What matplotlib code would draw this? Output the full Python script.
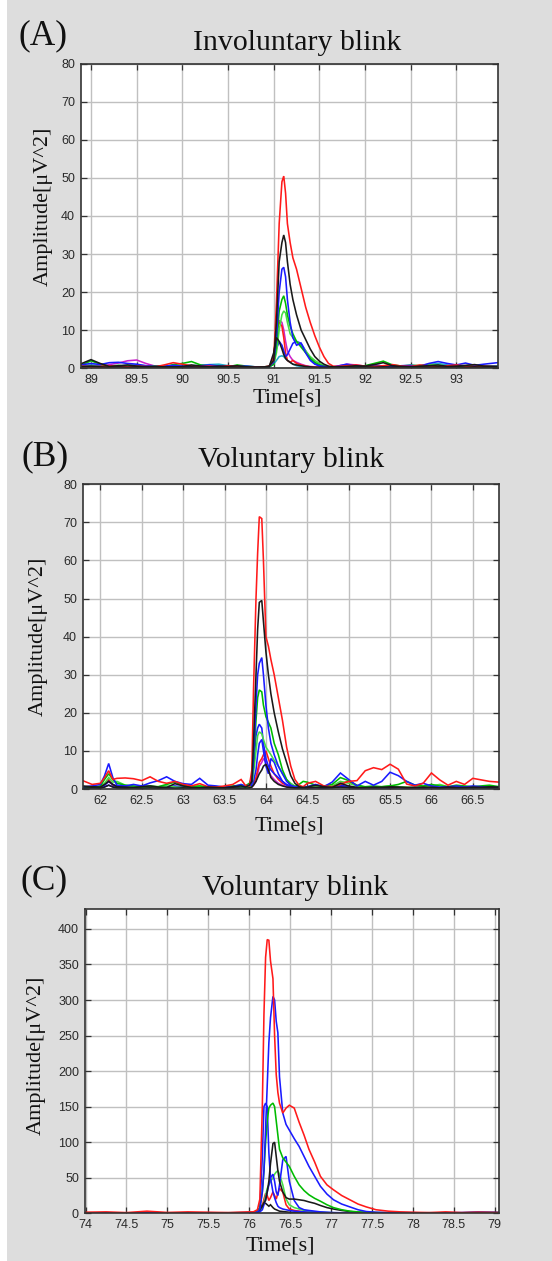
import numpy as np
import matplotlib
matplotlib.use("Agg")
import matplotlib.pyplot as plt
from matplotlib.patches import Rectangle

W, H, DPI = 552, 1261, 100

# ---------------- Panel A : involuntary blink ----------------
tA_pre = [88.88, 89.0, 89.1, 89.2, 89.3, 89.4, 89.5, 89.6, 89.7, 89.8,
          89.9, 90.0, 90.1, 90.2, 90.3, 90.4, 90.5, 90.6, 90.7, 90.8, 90.9]
tA_peak = [90.95, 91.0, 91.03, 91.06, 91.09, 91.11, 91.13, 91.15, 91.18, 91.21,
           91.25, 91.3, 91.35, 91.4, 91.45, 91.5, 91.55, 91.6, 91.65]
tA_post = [91.7, 91.8, 91.9, 92.0, 92.1, 92.2, 92.3, 92.4, 92.5, 92.6,
           92.7, 92.8, 92.9, 93.0, 93.1, 93.2, 93.3, 93.45]

A_cyan = [[0.6, 0.8, 0.6, 0.4, 0.5, 0.7, 0.8, 0.6, 0.4, 0.5, 0.3, 0.4, 0.6, 0.7, 0.9, 1.0, 0.6, 0.4, 0.3, 0.2, 0.2],
          [0.3, 1, 2, 3, 3.2, 3, 2.5, 2, 1.5, 1, 0.6, 0.4, 0.3, 0.2, 0.2, 0.2, 0.3, 0.3, 0.3],
          [0.4, 0.6, 0.5, 0.4, 0.3, 0.4, 0.6, 0.5, 0.4, 0.6, 0.9, 1.2, 0.8, 0.5, 0.4, 0.3, 0.5, 0.4]]
A_magenta = [[0.4, 0.6, 0.5, 0.9, 1.3, 1.9, 2.1, 1.2, 0.5, 0.3, 0.4, 0.3, 0.2, 0.3, 0.4, 0.3, 0.2, 0.3, 0.2, 0.2, 0.2],
             [0.3, 2.5, 9, 12.5, 12, 10, 7, 4.5, 3, 2, 1.5, 1, 0.6, 0.4, 0.3, 0.2, 0.2, 0.2, 0.3],
             [0.5, 1.0, 0.8, 0.5, 0.4, 0.3, 0.4, 0.3, 0.5, 0.4, 0.3, 0.4, 0.3, 0.2, 0.3, 0.4, 0.3, 0.2]]
A_red2 = [[0.2, 0.3, 0.2, 0.4, 0.3, 0.2, 0.3, 0.2, 0.4, 0.3, 0.2, 0.3, 0.4, 0.3, 0.2, 0.3, 0.2, 0.3, 0.2, 0.3, 0.2],
          [0.3, 3, 10, 12, 11, 8, 4, 2, 1.5, 2, 1.2, 0.8, 0.5, 0.3, 0.2, 0.2, 0.2, 0.2, 0.2],
          [0.2, 0.3, 0.2, 0.3, 0.2, 0.3, 0.4, 0.3, 0.2, 0.3, 0.2, 0.3, 0.2, 0.3, 0.4, 0.3, 0.2, 0.3]]
A_blue2 = [[0.5, 0.4, 0.6, 0.5, 0.3, 0.4, 0.6, 0.5, 0.3, 0.2, 0.3, 0.4, 0.3, 0.5, 0.4, 0.3, 0.4, 0.3, 0.2, 0.3, 0.2],
           [0.2, 1.5, 5, 7, 6, 4.5, 3, 3.5, 5, 6.5, 7, 6.5, 4.5, 2.5, 1.2, 0.5, 0.3, 0.2, 0.2],
           [0.3, 0.4, 0.3, 0.5, 0.4, 0.3, 0.5, 0.4, 0.3, 0.5, 0.4, 0.5, 0.6, 0.4, 0.3, 0.4, 0.3, 0.5]]
A_green2 = [[0.3, 0.5, 0.4, 0.6, 0.3, 0.5, 0.4, 0.3, 0.5, 0.6, 0.4, 0.3, 0.5, 0.4, 0.3, 0.5, 0.6, 0.4, 0.3, 0.2, 0.3],
            [0.4, 1.0, 4, 10, 14, 15, 14.5, 12, 9, 8, 7, 6, 4.5, 3, 2, 1.2, 0.6, 0.3, 0.2],
            [0.3, 0.4, 0.5, 0.3, 0.6, 0.4, 0.3, 0.5, 0.8, 0.6, 1.0, 0.8, 0.5, 0.6, 0.4, 0.5, 0.3, 0.4]]
A_green = [[0.6, 1.9, 1.0, 0.5, 0.7, 0.4, 0.3, 0.5, 0.4, 0.3, 0.9, 1.2, 1.7, 0.8, 0.5, 0.4, 0.3, 0.8, 0.5, 0.3, 0.2],
           [0.3, 1.0, 6, 15, 18, 19, 17, 14, 11, 9, 7, 5.5, 4, 2.5, 1.5, 0.8, 0.5, 0.3, 0.2],
           [0.3, 0.5, 0.4, 0.6, 1.2, 1.8, 0.8, 0.5, 0.3, 0.4, 0.5, 0.6, 0.4, 0.5, 0.3, 0.6, 0.4, 0.3]]
A_blue = [[0.8, 1.2, 0.9, 1.4, 1.5, 1.2, 1.0, 0.6, 0.4, 0.5, 0.7, 0.5, 0.3, 0.6, 0.8, 0.5, 0.6, 0.4, 0.5, 0.3, 0.2],
          [0.4, 1.5, 8, 20, 26, 26.5, 24, 18, 12, 8, 6, 6.5, 4, 2, 1, 0.6, 0.4, 0.3, 0.2],
          [0.5, 1.0, 0.6, 0.4, 0.8, 0.5, 0.4, 0.6, 0.7, 0.5, 1.2, 1.7, 1.2, 0.8, 1.3, 0.7, 1.0, 1.4]]
A_red = [[0.5, 0.3, 0.4, 0.6, 0.4, 0.3, 0.5, 0.4, 0.3, 0.8, 1.4, 1.0, 0.6, 0.4, 0.5, 0.3, 0.6, 0.4, 0.3, 0.2, 0.3],
         [0.5, 2.0, 17, 38, 49, 50.5, 46, 38, 33, 29, 26, 21, 16, 12, 8.5, 5.5, 3.0, 1.2, 0.5],
         [0.4, 0.6, 0.8, 0.5, 0.4, 0.6, 0.9, 0.5, 0.4, 0.8, 0.5, 0.4, 0.6, 0.8, 0.5, 0.4, 0.5, 0.3]]
A_black2 = [[0.3, 0.5, 0.3, 0.2, 0.3, 0.2, 0.3, 0.2, 0.3, 0.2, 0.3, 0.2, 0.3, 0.2, 0.3, 0.2, 0.3, 0.2, 0.3, 0.2, 0.2],
            [0.3, 4, 8, 7, 5, 3.5, 2.5, 2, 1.5, 1, 0.8, 0.6, 0.4, 0.3, 0.2, 0.2, 0.2, 0.2, 0.2],
            [0.2, 0.3, 0.2, 0.3, 0.2, 0.3, 0.2, 0.3, 0.2, 0.3, 0.2, 0.3, 0.2, 0.3, 0.2, 0.3, 0.2, 0.2]]
A_black = [[1.0, 2.2, 1.2, 0.4, 0.6, 0.8, 0.5, 0.3, 0.4, 0.3, 0.2, 0.4, 0.8, 0.5, 0.3, 0.5, 0.4, 0.6, 0.3, 0.2, 0.3],
           [0.5, 2.0, 12, 28, 33, 35, 33, 28, 22, 18, 14, 10, 7.5, 5, 3, 1.8, 1.0, 0.5, 0.3],
           [0.3, 0.4, 0.6, 0.5, 0.9, 1.4, 0.6, 0.4, 0.3, 0.5, 0.6, 0.8, 0.4, 0.5, 0.7, 0.9, 0.5, 0.4]]

# ---------------- Panel B : voluntary blink ----------------
tB_pre = [61.786, 61.9, 62.0, 62.05, 62.1, 62.15, 62.2, 62.3, 62.4, 62.5, 62.6, 62.7,
          62.8, 62.9, 63.0, 63.1, 63.2, 63.3, 63.4, 63.5, 63.6, 63.7, 63.75]
tB_peak = [63.8, 63.83, 63.85, 63.88, 63.9, 63.92, 63.95, 63.97, 64.0, 64.03,
           64.06, 64.1, 64.15, 64.2, 64.25, 64.3, 64.35, 64.4, 64.45]
tB_post = [64.5, 64.6, 64.7, 64.8, 64.9, 65.0, 65.1, 65.2, 65.3, 65.4, 65.5, 65.6,
           65.7, 65.8, 65.9, 66.0, 66.1, 66.2, 66.3, 66.4, 66.5, 66.6, 66.7, 66.82]

B_magenta = [[0.3, 0.4, 0.5, 1.0, 2.0, 1.0, 0.5, 0.4, 0.3, 0.4, 0.5, 0.4, 0.3, 0.4, 0.3, 0.4, 0.3, 0.4, 0.3, 0.4, 0.3, 0.4, 0.3],
             [0.3, 0.5, 1, 2, 4, 6, 7, 8, 7, 5, 3.5, 2.5, 1.5, 1, 0.6, 0.4, 0.3, 0.3, 0.3],
             [0.3, 0.4, 0.3, 0.4, 0.6, 0.4, 0.3, 0.4, 0.3, 0.4, 0.3, 0.4, 0.3, 0.4, 0.3, 0.4, 0.3, 0.4, 0.3, 0.4, 0.3, 0.4, 0.3, 0.3]]
B_red2 = [[0.4, 0.5, 0.6, 1.2, 2.5, 1.0, 0.6, 0.5, 0.4, 0.5, 0.6, 0.5, 0.4, 0.5, 0.4, 0.3, 0.4, 0.3, 0.4, 0.3, 0.5, 0.6, 0.4],
          [0.5, 0.8, 1.5, 3, 5, 7, 8, 9, 10, 8, 6, 4, 2.5, 1.5, 1.0, 0.6, 0.4, 0.4, 0.3],
          [0.4, 0.5, 0.4, 0.5, 1.5, 2.0, 0.8, 0.5, 0.4, 0.5, 0.4, 0.5, 0.4, 0.3, 0.4, 0.5, 0.4, 0.3, 0.4, 0.3, 0.4, 0.3, 0.4, 0.3]]
B_blue3 = [[0.3, 0.4, 0.3, 0.6, 1.0, 0.6, 0.4, 0.3, 0.4, 0.3, 0.4, 0.3, 0.4, 0.3, 0.4, 0.3, 0.4, 0.3, 0.4, 0.3, 0.4, 0.3, 0.3],
           [0.4, 0.8, 2, 5, 9, 12, 13, 10, 6, 4, 8, 7, 4, 2, 1, 0.6, 0.4, 0.3, 0.3],
           [0.3, 0.4, 0.3, 0.4, 0.6, 0.4, 0.3, 0.4, 0.3, 0.4, 0.3, 0.4, 0.3, 0.4, 0.3, 0.4, 0.3, 0.4, 0.3, 0.4, 0.3, 0.4, 0.3, 0.3]]
B_blue2 = [[0.4, 0.6, 0.5, 1.0, 2.0, 1.2, 0.8, 0.6, 0.5, 0.8, 0.6, 0.5, 0.6, 0.8, 0.5, 0.4, 0.6, 0.5, 0.4, 0.3, 0.4, 0.5, 0.4],
           [0.5, 1, 6, 14, 16, 17, 16, 12, 8, 6, 5, 4, 3, 2, 1.2, 0.8, 0.5, 0.4, 0.3],
           [0.4, 0.5, 0.4, 0.6, 1.0, 0.6, 0.4, 0.5, 0.4, 0.3, 0.5, 0.4, 0.3, 0.4, 0.5, 0.4, 0.3, 0.4, 0.5, 0.4, 0.3, 0.4, 0.3, 0.4]]
B_green2 = [[0.3, 0.5, 0.6, 1.5, 3.0, 1.8, 2.0, 1.0, 0.6, 0.5, 0.4, 0.6, 0.8, 0.5, 0.4, 0.6, 0.8, 0.5, 0.4, 0.3, 0.5, 0.6, 0.4],
            [0.5, 1, 4, 10, 14, 15, 14.5, 13, 11, 10, 9, 7.5, 6, 4, 2.5, 1.5, 0.8, 0.5, 0.4],
            [0.6, 0.8, 0.5, 0.8, 2.0, 1.5, 0.8, 0.5, 0.4, 0.6, 0.8, 0.6, 0.5, 0.4, 0.6, 0.8, 1.2, 0.6, 0.4, 0.5, 0.3, 0.4, 0.5, 0.4]]
B_green = [[0.5, 0.4, 0.8, 2.5, 4.0, 2.5, 1.5, 1.0, 0.8, 0.6, 0.8, 0.6, 1.2, 1.8, 1.0, 0.6, 0.8, 0.5, 0.4, 0.6, 0.8, 1.0, 0.8],
           [1.5, 3, 6, 18, 24, 26, 25.5, 22, 19, 17.5, 16, 12, 9, 5, 2.5, 1, 0.6, 1.2, 2.0],
           [1.8, 1.0, 0.8, 1.2, 3.0, 2.2, 1.0, 0.6, 0.8, 0.6, 0.8, 1.2, 2.0, 1.0, 0.8, 1.2, 0.8, 0.6, 1.0, 0.8, 0.6, 0.8, 1.0, 0.6]]
B_blue = [[0.5, 0.8, 1.2, 3.5, 6.7, 3.0, 1.0, 0.8, 1.2, 0.8, 1.6, 2.2, 3.2, 2.0, 1.4, 1.2, 2.8, 1.0, 0.8, 0.5, 0.6, 1.2, 0.8],
          [1.0, 1, 8, 22, 30, 33, 34.5, 30, 22, 16, 12, 9, 6, 4, 2, 1, 0.6, 0.5, 0.4],
          [0.6, 1.2, 0.6, 1.8, 4.2, 2.5, 0.8, 2.0, 1.0, 2.0, 4.4, 3.5, 2.0, 1.0, 1.5, 0.8, 0.5, 0.6, 0.8, 0.5, 0.8, 0.6, 0.5, 0.4]]
B_red = [[2.2, 1.2, 1.5, 3.0, 4.8, 2.5, 2.8, 2.9, 2.7, 2.2, 3.2, 2.0, 1.5, 2.0, 1.2, 0.8, 1.4, 0.6, 0.5, 0.8, 1.2, 2.5, 1.0],
         [0.8, 5, 26, 50, 62, 71.5, 71, 60, 40, 37.5, 34, 30, 24, 18, 11, 6, 2.5, 1.0, 0.6],
         [1.5, 2.0, 0.8, 0.6, 1.2, 2.0, 2.2, 4.8, 5.6, 5.1, 6.5, 5.2, 1.3, 0.8, 1.5, 4.2, 2.4, 1.0, 2.0, 1.2, 2.8, 2.4, 2.0, 1.8]]
B_black2 = [[0.2, 0.3, 0.2, 0.5, 1.0, 0.5, 0.3, 0.2, 0.3, 0.2, 0.3, 0.2, 0.3, 0.2, 0.3, 0.2, 0.3, 0.2, 0.3, 0.2, 0.3, 0.2, 0.2],
            [0.3, 0.5, 1, 2, 3, 4, 5, 6, 6.5, 5, 3, 2, 1.2, 0.8, 0.5, 0.4, 0.3, 0.3, 0.3],
            [0.3, 0.4, 0.3, 0.4, 0.5, 0.4, 0.3, 0.4, 0.3, 0.4, 0.3, 0.4, 0.3, 0.4, 0.3, 0.4, 0.3, 0.4, 0.3, 0.4, 0.3, 0.4, 0.3, 0.3]]
B_black = [[0.8, 0.6, 0.5, 1.2, 2.0, 1.2, 0.6, 0.5, 0.4, 0.6, 0.8, 0.5, 0.4, 1.4, 0.8, 0.4, 0.3, 0.5, 0.4, 0.3, 0.6, 0.8, 0.5],
           [1.0, 2, 12, 30, 42, 49, 49.5, 44, 36, 30, 25, 20, 15, 10.5, 7, 3.5, 1.5, 0.6, 0.4],
           [0.5, 1.0, 0.6, 0.4, 1.5, 0.8, 0.4, 0.3, 0.5, 0.4, 0.6, 0.5, 0.4, 0.3, 0.5, 0.4, 0.3, 0.5, 0.4, 0.3, 0.5, 0.4, 0.6, 0.5]]

# ---------------- Panel C : voluntary blink ----------------
tC_pre = [73.987, 74.25, 74.5, 74.75, 75.0, 75.25, 75.5, 75.75, 76.0]
tC_peak = [76.05, 76.1, 76.13, 76.16, 76.18, 76.2, 76.22, 76.24, 76.26, 76.29,
           76.31, 76.33, 76.35, 76.37, 76.41, 76.45, 76.49, 76.55, 76.61, 76.67,
           76.73, 76.8, 76.87, 76.95, 77.03, 77.13, 77.23, 77.33, 77.43, 77.55,
           77.7, 77.85]
tC_post = [78.0, 78.2, 78.4, 78.6, 78.8, 79.056]

C_black2 = [[0.2, 0.3, 0.2, 0.3, 0.2, 0.3, 0.2, 0.3, 0.3],
            [0.5, 2, 8, 12, 15, 14, 12, 10, 12, 8, 6, 5, 4, 3, 2.5, 2, 1.5, 1.2, 1, 0.8,
             0.6, 0.5, 0.4, 0.4, 0.3, 0.3, 0.3, 0.3, 0.3, 0.3, 0.3, 0.3],
            [0.3, 0.3, 0.3, 0.3, 0.3, 0.3]]
C_red2 = [[0.3, 0.5, 0.3, 0.4, 0.3, 0.4, 0.3, 0.4, 0.5],
          [0.5, 1, 3, 10, 20, 28, 25, 18, 22, 30, 25, 20, 28, 35, 30, 12, 6, 4, 3, 2,
           1.5, 1, 0.8, 0.6, 0.5, 0.5, 0.4, 0.4, 0.4, 0.4, 0.4, 0.4],
          [0.4, 0.5, 0.4, 0.4, 0.5, 0.4]]
C_green2 = [[0.3, 0.4, 0.3, 0.4, 0.3, 0.4, 0.3, 0.4, 0.4],
            [0.5, 1, 3, 8, 15, 25, 35, 40, 45, 50, 55, 58, 60, 55, 40, 20, 12, 8, 6, 4,
             3, 2, 1.5, 1, 0.8, 0.6, 0.5, 0.4, 0.4, 0.4, 0.4, 0.4],
            [0.4, 0.4, 0.5, 0.4, 0.4, 0.4]]
C_blue3 = [[0.3, 0.4, 0.3, 0.4, 0.3, 0.4, 0.3, 0.4, 0.5],
           [0.5, 1, 2, 5, 12, 20, 30, 40, 50, 55, 45, 30, 25, 40, 75, 80, 45, 18, 8, 5,
            4, 3, 2, 1.5, 1, 0.8, 0.6, 0.5, 0.4, 0.4, 0.4, 0.4],
           [0.4, 0.4, 0.4, 0.5, 0.4, 0.4]]
C_blue2 = [[0.4, 0.5, 0.4, 0.6, 0.4, 0.5, 0.4, 0.5, 0.6],
           [1, 3, 5, 80, 150, 155, 150, 85, 50, 30, 22, 15, 10, 8, 6, 5, 4, 3, 2.5, 2,
            1.5, 1.2, 1, 0.8, 0.6, 0.5, 0.5, 0.4, 0.4, 0.4, 0.4, 0.4],
           [0.4, 0.5, 0.4, 0.5, 0.4, 0.4]]
C_black = [[0.8, 0.6, 0.5, 0.8, 0.6, 0.5, 0.6, 0.8, 1.0],
           [1, 2, 5, 10, 15, 18, 30, 45, 70, 98, 100, 80, 60, 45, 30, 22, 20, 20, 19, 18,
            16, 14, 11, 8, 6, 4, 2.5, 1.5, 1, 0.8, 0.6, 0.6],
           [0.6, 0.8, 0.6, 0.8, 1.5, 1.2]]
C_green = [[0.5, 0.6, 0.5, 0.8, 0.5, 0.6, 0.5, 0.6, 0.8],
           [1, 3, 8, 30, 60, 100, 130, 148, 152, 155, 150, 130, 110, 90, 78, 72, 66, 52, 40, 32,
            26, 21, 17, 12, 8, 5, 3, 2, 1.5, 1, 0.8, 0.6],
           [0.6, 0.5, 0.6, 0.5, 0.6, 0.5]]
C_blue = [[0.5, 0.8, 0.5, 1.0, 0.6, 0.5, 0.8, 0.6, 1.0],
          [1, 2, 6, 30, 60, 120, 180, 240, 275, 305, 300, 270, 254, 192, 141, 125, 117, 105, 94, 80,
           66, 52, 38, 27, 19, 13, 9, 5, 2.5, 1.5, 1, 1],
          [0.8, 0.5, 0.8, 1.0, 1.5, 1.0]]
C_red = [[1.5, 2.0, 1.0, 3.0, 1.2, 2.0, 1.5, 1.0, 2.0],
         [2, 5, 20, 150, 280, 360, 385, 384, 355, 330, 250, 195, 170, 155, 141, 148, 152, 148, 128, 110,
          90, 72, 52, 40, 33, 25, 19, 13, 9, 5, 3, 2],
         [1.5, 1.0, 2.0, 1.0, 1.5, 1.0]]

# tick values and labels
xticks_A = [89, 89.5, 90, 90.5, 91, 91.5, 92, 92.5, 93]
xlabels_A = ["89", "89.5", "90", "90.5", "91", "91.5", "92", "92.5", "93"]
xticks_B = [62, 62.5, 63, 63.5, 64, 64.5, 65, 65.5, 66, 66.5]
xlabels_B = ["62", "62.5", "63", "63.5", "64", "64.5", "65", "65.5", "66", "66.5"]
xticks_C = [74, 74.5, 75, 75.5, 76, 76.5, 77, 77.5, 78, 78.5, 79]
xlabels_C = ["74", "74.5", "75", "75.5", "76", "76.5", "77", "77.5", "78", "78.5", "79"]
yticks_AB = [0, 10, 20, 30, 40, 50, 60, 70, 80]
yticks_C = [0, 50, 100, 150, 200, 250, 300, 350, 400]

COL = {
    "red": "#ff1a1a", "black": "#1a1a1a", "blue": "#1a1aff", "green": "#00bb00",
    "green2": "#44dd44", "magenta": "#cc22cc", "cyan": "#22aacc",
}

SERIF = ["Liberation Serif", "DejaVu Serif"]
TICKFONT = ["Liberation Sans Narrow", "Liberation Sans", "DejaVu Sans"]

fig = plt.figure(figsize=(W / DPI, H / DPI), dpi=DPI, facecolor="#dddddd")
fig.patches.append(Rectangle((0, 0), 7 / W, 1, transform=fig.transFigure,
                             facecolor="white", edgecolor="none", zorder=0))


def px_axes(left, right, top, bottom):
    return fig.add_axes([left / W, 1 - bottom / H, (right - left) / W, (bottom - top) / H])


def ftext(x, y, s, **kw):
    fig.text(x / W, 1 - y / H, s, **kw)


def series(t_parts, v_parts):
    t = np.concatenate([np.asarray(p, float) for p in t_parts])
    v = np.concatenate([np.asarray(p, float) for p in v_parts])
    assert len(t) == len(v), (len(t), len(v))
    return t, v


def style_axes(ax, xlim, ylim, xticks, xlabels, yticks):
    ax.set_facecolor("white")
    ax.set_xlim(*xlim)
    ax.set_ylim(*ylim)
    ax.set_xticks(xticks)
    ax.set_xticklabels(xlabels)
    ax.set_yticks(yticks)
    ax.grid(True, color="#c0c0c0", lw=1.0)
    ax.set_axisbelow(True)
    ax.tick_params(direction="in", top=True, right=True, length=4, width=0.9,
                   color="#333333", labelcolor="#2a2a2a", labelsize=9, pad=4)
    for lab in ax.get_xticklabels() + ax.get_yticklabels():
        lab.set_family(TICKFONT)
    for sp in ax.spines.values():
        sp.set_color("#333333")
        sp.set_linewidth(1.2)


def draw(ax, tparts, traces):
    for vparts, c in traces:
        t, v = series(tparts, vparts)
        ax.plot(t, v, color=COL[c], lw=1.15, solid_joinstyle="miter")


# Panel A
axA = px_axes(80.5, 497.5, 64, 368)
draw(axA, (tA_pre, tA_peak, tA_post), [
    (A_cyan, "cyan"), (A_magenta, "magenta"), (A_red2, "red"), (A_blue2, "blue"),
    (A_green2, "green2"), (A_green, "green"), (A_blue, "blue"), (A_red, "red"),
    (A_black2, "black"), (A_black, "black")])
style_axes(axA, (88.885, 93.45), (0, 80), xticks_A, xlabels_A, yticks_AB)

# Panel B
axB = px_axes(82.7, 499.3, 484.3, 789)
draw(axB, (tB_pre, tB_peak, tB_post), [
    (B_magenta, "magenta"), (B_red2, "red"), (B_blue3, "blue"), (B_blue2, "blue"),
    (B_green2, "green2"), (B_green, "green"), (B_blue, "blue"), (B_red, "red"),
    (B_black2, "black"), (B_black, "black")])
style_axes(axB, (61.786, 66.82), (0, 80), xticks_B, xlabels_B, yticks_AB)

# Panel C
axC = px_axes(84.5, 499.3, 909, 1213.3)
draw(axC, (tC_pre, tC_peak, tC_post), [
    (C_black2, "black"), (C_red2, "red"), (C_green2, "green2"), (C_blue3, "blue"),
    (C_blue2, "blue"), (C_black, "black"), (C_green, "green"), (C_blue, "blue"),
    (C_red, "red")])
style_axes(axC, (73.987, 79.056), (0, 428), xticks_C, xlabels_C, yticks_C)

# Panel letters, titles and axis labels
panel_text = [
    ("(A)", "Involuntary blink", (43, 36), (297, 50), (287.6, 403), (43, 206)),
    ("(B)", "Voluntary blink", (45.5, 456.5), (291.5, 466.7), (289, 830.7), (38, 636)),
    ("(C)", "Voluntary blink", (44, 881), (295, 895), (280, 1250), (36, 1055)),
]
for letter, title, lpos, tpos, xlpos, ylpos in panel_text:
    ftext(*lpos, letter, family=SERIF, fontsize=25.5, ha="center", va="center", color="#111111")
    ftext(*tpos, title, family=SERIF, fontsize=21.5, ha="center", va="baseline", color="#111111")
    ftext(*xlpos, "Time[s]", family=SERIF, fontsize=16, ha="center", va="baseline", color="#111111")
    ftext(*ylpos, "Amplitude[\u03bcV^2]", family=SERIF, fontsize=16, ha="center", va="center",
          rotation=90, color="#111111")

fig.savefig("out.png", dpi=DPI, facecolor=fig.get_facecolor())
